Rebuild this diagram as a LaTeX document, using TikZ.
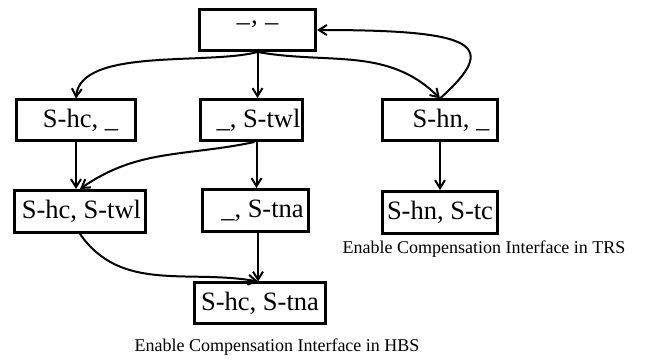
\documentclass[tikz,border=0pt]{standalone}
\usepackage{fontspec}
\setmainfont{Liberation Serif}
\usetikzlibrary{arrows.meta}
\newcommand{\updash}{\raisebox{0.3em}{\textendash}}
\begin{document}
\begin{tikzpicture}[x=1pt,y=1pt,
  box/.style={draw, line width=3pt, inner sep=0pt, minimum height=41pt,
    font=\fontsize{26.5}{30}\selectfont},
  lbl/.style={inner sep=0pt, font=\fontsize{18}{21}\selectfont},
  edge/.style={line width=2pt, -{Straight Barb[length=8pt,width=10pt,line width=2pt]}}]
\useasboundingbox (0,0) rectangle (649,364);
\node[box, minimum width=116pt] (top) at (257.5,334) {\updash’ \updash};
\node[box, minimum width=119pt] (shc) at (76,243.5) {\hspace*{9pt}S-hc, \_};
\node[box, minimum width=102pt] (twl) at (251.5,244) {\hspace*{14pt}\_, S-twl};
\node[box, minimum width=115pt] (hn) at (440,243.5) {\hspace*{22pt}S-hn, \_};
\node[box, minimum width=131pt, minimum height=42pt] (hctwl) at (80,152.5) {\hspace*{3pt}S-hc, S-twl};
\node[box, minimum width=106pt, minimum height=42pt] (tna) at (255.5,153.5) {\hspace*{14pt}\_, S-tna};
\node[box, minimum width=115pt, minimum height=42pt] (hntc) at (440,151.5) {S-hn, S-tc};
\node[box, minimum width=131pt] (hctna) at (260,60.5) {S-hc, S-tna};
\node[lbl] (trs) at (484,115) {Enable Compensation Interface in TRS};
\node[lbl] (hbs) at (277,17) {Enable Compensation Interface in HBS};
\draw[edge] (top.south) to[out=195,in=85,looseness=0.7] (shc.north);
\draw[edge] (top.south) -- (top.south |- twl.north);
\draw[edge] (top.south) to[out=-10,in=135] (hn.north);
\draw[edge] (hn.north) .. controls +(60,54) and +(161,0) .. (top.east);
\draw[edge] (shc.south) -- (shc.south |- hctwl.north);
\draw[edge] ([xshift=3pt]twl.south) to[out=192,in=35] (hctwl.north);
\draw[edge] ([xshift=5pt]twl.south) -- ([xshift=5pt]twl.south |- tna.north);
\draw[edge] (hctwl.south) to[out=-55,in=170] ([xshift=-2pt]hctna.north);
\draw[edge] ([xshift=2.5pt]tna.south) -- ([xshift=2.5pt]tna.south |- hctna.north);
\draw[edge] (hn.south) -- (hntc.north);
\end{tikzpicture}
\end{document}
